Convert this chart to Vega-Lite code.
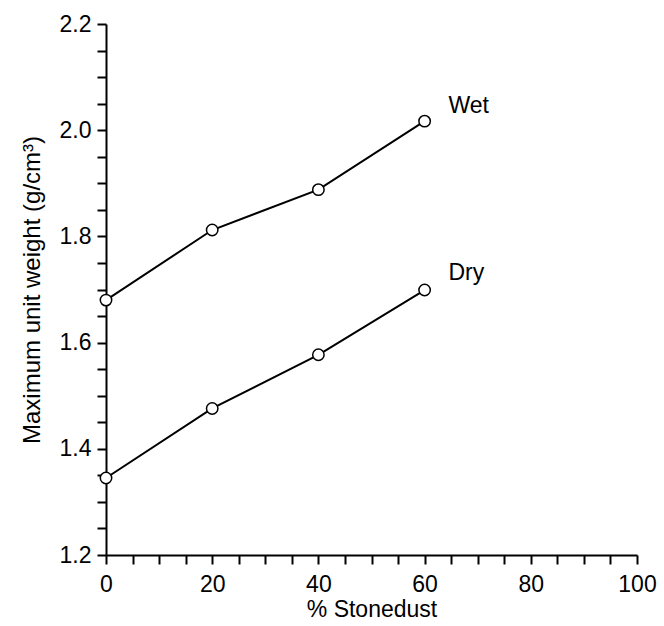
{
  "$schema": "https://vega.github.io/schema/vega-lite/v6.json",
  "width": 531,
  "height": 531,
  "autosize": {"type": "none"},
  "padding": {"left": 106, "top": 24, "right": 27, "bottom": 71},
  "background": "white",
  "config": {
    "view": {"stroke": null},
    "font": "Liberation Sans"
  },
  "datasets": {
    "pts": [
      {"stonedust": 0, "weight": 1.68, "series": "Wet"},
      {"stonedust": 20, "weight": 1.812, "series": "Wet"},
      {"stonedust": 40, "weight": 1.888, "series": "Wet"},
      {"stonedust": 60, "weight": 2.017, "series": "Wet"},
      {"stonedust": 0, "weight": 1.345, "series": "Dry"},
      {"stonedust": 20, "weight": 1.476, "series": "Dry"},
      {"stonedust": 40, "weight": 1.577, "series": "Dry"},
      {"stonedust": 60, "weight": 1.699, "series": "Dry"}
    ],
    "labels": [
      {"stonedust": 64.5, "weight": 2.046, "text": "Wet"},
      {"stonedust": 64.5, "weight": 1.731, "text": "Dry"}
    ]
  },
  "layer": [
    {
      "data": {"name": "pts"},
      "mark": {"type": "line", "color": "black", "strokeWidth": 2},
      "encoding": {
        "x": {
          "field": "stonedust", "type": "quantitative",
          "scale": {"domain": [0, 100], "nice": false, "zero": false},
          "axis": {
            "title": "% Stonedust",
            "values": [0,5,10,15,20,25,30,35,40,45,50,55,60,65,70,75,80,85,90,95,100],
            "tickCount": 30,
            "labelExpr": "datum.value % 20 == 0 ? datum.value : ''",
            "labelOverlap": false,
            "grid": false,
            "domainColor": "black", "domainWidth": 2,
            "tickColor": "black", "tickWidth": 2, "tickSize": 9,
            "labelFontSize": 23, "labelColor": "black", "labelPadding": 9,
            "labelFlush": false,
            "titleFontSize": 23, "titleFontWeight": "normal", "titleColor": "black", "titlePadding": 2
          }
        },
        "y": {
          "field": "weight", "type": "quantitative",
          "scale": {"domain": [1.2, 2.2], "nice": false, "zero": false},
          "axis": {
            "title": "Maximum unit weight (g/cm³)",
            "values": [1.2,1.25,1.3,1.35,1.4,1.45,1.5,1.55,1.6,1.65,1.7,1.75,1.8,1.85,1.9,1.95,2.0,2.05,2.1,2.15,2.2],
            "tickCount": 30,
            "labelExpr": "round(datum.value*20) % 4 == 0 ? format(datum.value, '.1f') : ''",
            "labelOverlap": false,
            "grid": false,
            "domainColor": "black", "domainWidth": 2,
            "tickColor": "black", "tickWidth": 2, "tickSize": 9,
            "labelFontSize": 23, "labelColor": "black", "labelPadding": 6,
            "labelFlush": false,
            "titleFontSize": 24, "titleFontWeight": "normal", "titleColor": "black", "titlePadding": 15
          }
        },
        "detail": {"field": "series"}
      }
    },
    {
      "data": {"name": "pts"},
      "mark": {"type": "point", "shape": "circle", "filled": true, "fill": "white", "stroke": "black", "strokeWidth": 1.5, "size": 130, "opacity": 1},
      "encoding": {
        "x": {"field": "stonedust", "type": "quantitative"},
        "y": {"field": "weight", "type": "quantitative"}
      }
    },
    {
      "data": {"name": "labels"},
      "mark": {"type": "text", "align": "left", "baseline": "middle", "fontSize": 23, "color": "black"},
      "encoding": {
        "x": {"field": "stonedust", "type": "quantitative"},
        "y": {"field": "weight", "type": "quantitative"},
        "text": {"field": "text"}
      }
    }
  ]
}
